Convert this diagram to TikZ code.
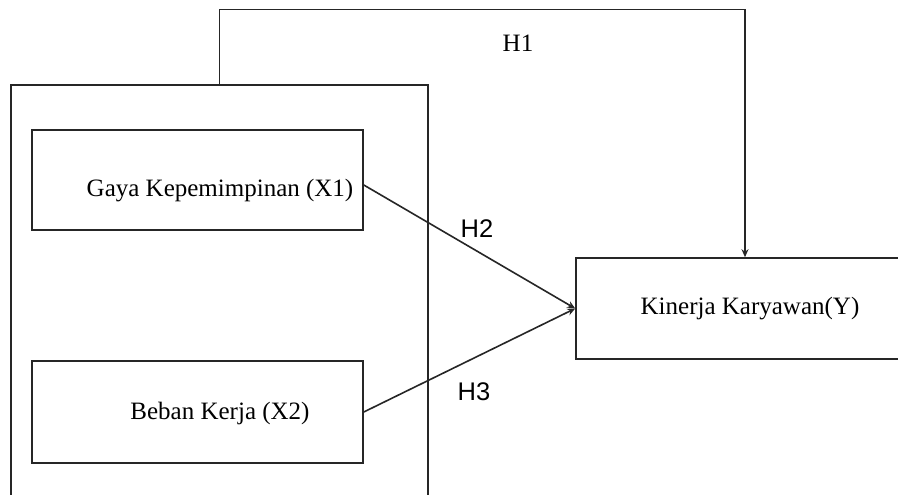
\documentclass[tikz,border=0pt]{standalone}
\usepackage{fontspec}
\setmainfont{Liberation Serif}
\newfontfamily\hsans{Liberation Sans}
\usetikzlibrary{arrows.meta,calc}
\tikzset{
  box/.style={draw=black!85, line width=1.6pt, rectangle, inner sep=0pt},
  conn/.style={draw=black!85, line width=1.6pt, -{Stealth[length=8pt,width=7pt]}},
  lbl/.style={anchor=base, inner sep=0pt, font=\fontsize{25}{30}\selectfont},
  hlbl/.style={anchor=base, inner sep=0pt, font=\hsans\fontsize{25.5}{30}\selectfont}
}
\begin{document}
\begin{tikzpicture}[x=1pt,y=-1pt]
\clip (0,0) rectangle (898,495);
\fill[white] (0,0) rectangle (898,495);
% outer group box (runs past bottom edge)
\node[box, minimum width=417pt, minimum height=430pt] (outer) at (219.5,300) {};
% inner boxes
\node[box, minimum width=331pt, minimum height=100pt] (x1) at (197.5,180) {};
\node[lbl] (x1t) at (220,196) {Gaya Kepemimpinan (X1)};
\node[box, minimum width=331pt, minimum height=102pt] (x2) at (197.5,412) {};
\node[lbl] (x2t) at (220,419) {Beban Kerja (X2)};
% dependent box (runs past right edge)
\node[box, minimum width=344pt, minimum height=101pt] (y) at (748,308.5) {};
\node[lbl] (yt) at (750,314) {Kinerja Karyawan(Y)};
% connectors
\coordinate (h1top) at (745,9.5);
\draw[conn] (outer.north) |- (h1top) -- (h1top |- y.north);
\draw[conn] ($(x1.east)+(0,5)$) -- (y.west);
\draw[conn] (x2.east) -- (y.west);
% labels
\node[lbl] (h1) at (518,52) {H1};
\node[hlbl] (h2) at (477,237) {H2};
\node[hlbl] (h3) at (474,400) {H3};
\end{tikzpicture}
\end{document}
